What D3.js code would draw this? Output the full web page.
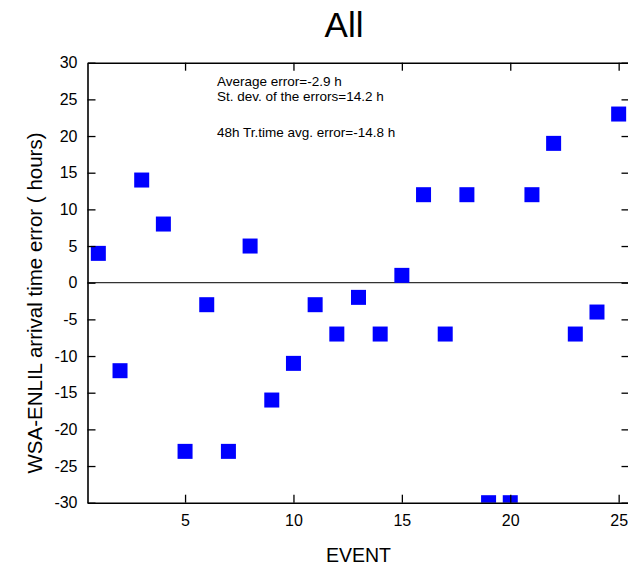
<!DOCTYPE html>
<html>
<head>
<meta charset="utf-8">
<script src="https://cdn.jsdelivr.net/npm/d3@7"></script>
<style>
  html, body { margin: 0; padding: 0; background: #fff; }
  svg { display: block; }
  text { font-family: "Liberation Sans", Arial, Helvetica, sans-serif; fill: #000; }
</style>
</head>
<body>
<svg id="chart" width="628" height="565"></svg>
<script>
const events = [1,2,3,4,5,6,7,8,9,10,11,12,13,14,15,16,17,18,19,20,21,22,23,24,25];
const errors = [4,-12,14,8,-23,-3,-23,5,-16,-11,-3,-7,-2,-7,1,12,-7,12,-30,-30,12,19,-7,-4,23];
const xTicks = [5,10,15,20,25];
const yTicks = [-30,-25,-20,-15,-10,-5,0,5,10,15,20,25,30];
const annotations = ["Average error=-2.9 h", "St. dev. of the errors=14.2 h", "", "48h Tr.time avg. error=-14.8 h"];
const titleText = "All";
const xLabel = "EVENT";
const yLabel = "WSA-ENLIL arrival time error ( hours)";

const svg = d3.select("#chart");
const L = 87.5, R = 629.5, T = 62.7, B = 502.7;
const x = d3.scaleLinear().domain([0.5, 25.5]).range([L, R]);
const y = d3.scaleLinear().domain([-30, 30]).range([B, T]);

svg.append("defs").append("clipPath").attr("id", "clip")
  .append("rect").attr("x", L).attr("y", T).attr("width", R - L).attr("height", B - T);

// zero line
svg.append("line")
  .attr("x1", L).attr("x2", R).attr("y1", y(0)).attr("y2", y(0))
  .attr("stroke", "#333").attr("stroke-width", 1.2);

// points
const s = 15;
svg.append("g").attr("clip-path", "url(#clip)")
  .selectAll("rect").data(events).join("rect")
  .attr("x", (d) => x(d) - s / 2)
  .attr("y", (d, i) => y(errors[i]) - s / 2)
  .attr("width", s).attr("height", s)
  .attr("fill", "#0000ff");

// axes
const tl = 8;
const fmt = (d) => String(d);
const axB = d3.axisBottom(x).tickValues(xTicks).tickSizeInner(-tl).tickSizeOuter(0).tickPadding(12).tickFormat(fmt);
const axT = d3.axisTop(x).tickValues(xTicks).tickSizeInner(-tl).tickSizeOuter(0).tickFormat("");
const axL = d3.axisLeft(y).tickValues(yTicks).tickSizeInner(-tl).tickSizeOuter(0).tickPadding(10).tickFormat(fmt);
const axR = d3.axisRight(y).tickValues(yTicks).tickSizeInner(-tl).tickSizeOuter(0).tickFormat("");

function style(g) {
  g.selectAll(".domain").attr("stroke", "#000").attr("stroke-width", 1.6);
  g.selectAll(".tick line").attr("stroke", "#000").attr("stroke-width", 1.3);
  g.selectAll(".tick text").attr("font-size", 16).attr("font-family", "Liberation Sans, Arial, sans-serif").attr("fill", "#000");
}
svg.append("g").attr("transform", `translate(0,${B})`).call(axB).call(style);
svg.append("g").attr("transform", `translate(0,${T})`).call(axT).call(style);
svg.append("g").attr("transform", `translate(${L},0)`).call(axL).call(style);
svg.append("g").attr("transform", `translate(${R},0)`).call(axR).call(style);

// title
svg.append("text").attr("x", 344).attr("y", 37).attr("text-anchor", "middle")
  .attr("font-size", 35).text(titleText);

// axis labels
svg.append("text").attr("x", x(13)).attr("y", 562).attr("text-anchor", "middle")
  .attr("font-size", 19.5).text(xLabel);
svg.append("text")
  .attr("transform", `translate(42,303) rotate(-90)`)
  .attr("text-anchor", "middle").attr("font-size", 20.5).text(yLabel);

// annotations
const baselines = [85.5, 101, 0, 136.5];
annotations.forEach((t, i) => {
  if (!t) return;
  svg.append("text").attr("x", 217).attr("y", baselines[i]).attr("font-size", 13.5).text(t);
});
</script>
</body>
</html>
